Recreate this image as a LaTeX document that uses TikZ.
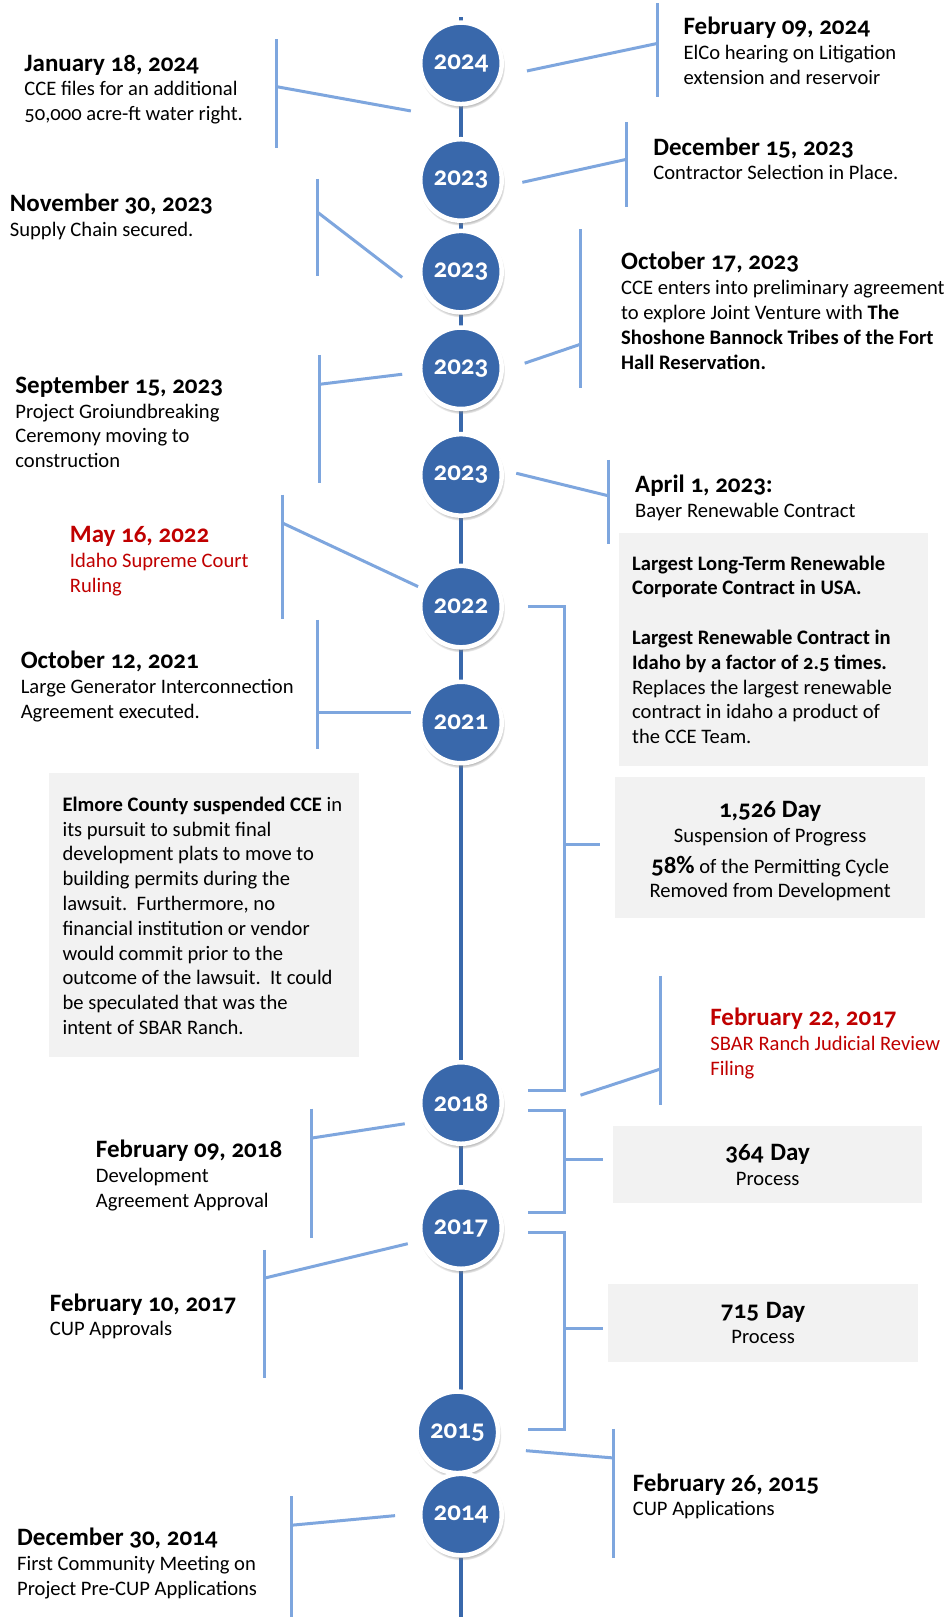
\documentclass[tikz,border=0pt]{standalone}
\usepackage{fontspec}
\setmainfont{Carlito}[Numbers=OldStyle]
\usetikzlibrary{shadows}
\definecolor{cblue}{RGB}{57,104,171}
\definecolor{lblue}{RGB}{126,166,222}
\definecolor{cred}{RGB}{192,0,0}
\definecolor{boxgray}{RGB}{242,242,242}
\newcommand\evtitle[1]{{\fontsize{25}{24.8}\selectfont\bfseries #1}}
\begin{document}
\begin{tikzpicture}[x=1.0315pt,y=-1.0315pt,
  yr/.style={circle, fill=cblue, draw=white, line width=4.5pt, minimum size=81.5pt, inner sep=0pt,
    text=white, font=\fontsize{27}{27}\selectfont\bfseries,
    circular drop shadow={shadow xshift=0.8pt, shadow yshift=-2.5pt, shadow scale=1.06}},
  conn/.style={draw=lblue, line width=3pt},
  spine/.style={draw=cblue, line width=4pt},
  ev/.style={anchor=north west, inner sep=0pt, align=left, font=\fontsize{20.6}{24.8}\selectfont},
  gbox/.style={fill=boxgray, inner ysep=0pt, font=\fontsize{20.6}{24.8}\selectfont},
  btext/.style={inner sep=0pt, font=\fontsize{20.6}{24.8}\selectfont}
]
\useasboundingbox (0,0) rectangle (921,1568);
\fill[white] (0,0) rectangle (921,1568);

% spine
\coordinate (sp0) at (447,16.5);
\coordinate (sp1) at (447,1568);
\draw[spine] (sp0) -- (sp1);

% year circles
\node[yr] (c24) at (447,61.4) {2024};
\node[yr] (c23a) at (447,174.5) {2023};
\node[yr] (c23b) at (447,263.4) {2023};
\node[yr] (c23c) at (447,357.1) {2023};
\node[yr] (c23d) at (447,460.5) {2023};
\node[yr] (c22) at (447,588.2) {2022};
\node[yr] (c21) at (447,700.6) {2021};
\node[yr] (c18) at (447,1069.6) {2018};
\node[yr] (c17) at (447,1190.8) {2017};
\node[yr] (c15) at (443.5,1388.9) {2015};
\node[yr] (c14) at (447,1468.7) {2014};

% ---------- left connectors ----------
\coordinate (l1t) at (268,38);     \coordinate (l1b) at (268,143.8);
\coordinate (l1k) at (268,84);     \coordinate (l1e) at (398.4,107.6);
\coordinate (l2t) at (307.9,173.5); \coordinate (l2b) at (307.9,267.6);
\coordinate (l2k) at (307.9,205.8); \coordinate (l2e) at (390,269);
\coordinate (l3t) at (310.2,344);  \coordinate (l3b) at (310.2,468.6);
\coordinate (l3k) at (310.2,372.6); \coordinate (l3e) at (390,362.9);
\coordinate (l4t) at (274.4,479.6); \coordinate (l4b) at (274.4,600.4);
\coordinate (l4k) at (274.4,507.4); \coordinate (l4e) at (405.4,568.8);
\coordinate (l5t) at (307.9,601);  \coordinate (l5b) at (307.9,726.4);
\coordinate (l5k) at (307.9,690.6); \coordinate (l5e) at (398.4,690.6);
\coordinate (l7t) at (302,1075);   \coordinate (l7b) at (302,1200);
\coordinate (l7k) at (302,1103.6); \coordinate (l7e) at (392.5,1089.7);
\coordinate (l8t) at (256.8,1212); \coordinate (l8b) at (256.8,1336.2);
\coordinate (l8k) at (256.8,1239.3); \coordinate (l8e) at (395.4,1206);
\coordinate (l9t) at (282.6,1451); \coordinate (l9b) at (282.6,1568);
\coordinate (l9k) at (282.6,1479); \coordinate (l9e) at (383.1,1469.7);
\foreach \i in {1,2,3,4,5,7,8,9}{
  \draw[conn] (l\i t) -- (l\i b);
  \draw[conn] (l\i k) -- (l\i e);
}

% ---------- right connectors ----------
\coordinate (r1t) at (638,3.2);    \coordinate (r1b) at (638,94.4);
\coordinate (r1k) at (638,42);     \coordinate (r1e) at (511,68.8);
\coordinate (r2t) at (607.5,118.6); \coordinate (r2b) at (607.5,200.4);
\coordinate (r2k) at (607.5,154.5); \coordinate (r2e) at (506.5,176.8);
\coordinate (r3t) at (562.9,222.3); \coordinate (r3b) at (562.9,375.8);
\coordinate (r3k) at (562.9,333.8); \coordinate (r3e) at (508.8,352.2);
\coordinate (r4t) at (590.5,446);  \coordinate (r4b) at (590.5,527.4);
\coordinate (r4k) at (590.5,480.9); \coordinate (r4e) at (500.6,458.9);
\coordinate (r8t) at (640.4,946.2); \coordinate (r8b) at (640.4,1071.3);
\coordinate (r8k) at (640.4,1036.6); \coordinate (r8e) at (562.9,1062);
\coordinate (r9t) at (595.2,1385.5); \coordinate (r9b) at (595.2,1510.7);
\coordinate (r9k) at (595.2,1413.8); \coordinate (r9e) at (510,1406.7);
\foreach \i in {1,2,3,4,8,9}{
  \draw[conn] (r\i t) -- (r\i b);
  \draw[conn] (r\i k) -- (r\i e);
}

% ---------- brackets ----------
\coordinate (b1s) at (512.3,588);   \coordinate (b1e) at (512.3,1057);
\coordinate (b1m) at (547.6,819);   \coordinate (b1x) at (581.7,819);
\draw[conn] (b1s) -- (547.6,588) -- (547.6,1057) -- (b1e);
\draw[conn] (b1m) -- (b1x);
\coordinate (b2s) at (512.3,1076.8); \coordinate (b2e) at (512.3,1175.3);
\coordinate (b2m) at (547.6,1124.6); \coordinate (b2x) at (584.6,1124.6);
\draw[conn] (b2s) -- (547.6,1076.8) -- (547.6,1175.3) -- (b2e);
\draw[conn] (b2m) -- (b2x);
\coordinate (b3s) at (512.3,1195);  \coordinate (b3e) at (512.3,1386);
\coordinate (b3m) at (547.6,1288.7); \coordinate (b3x) at (584.6,1288.7);
\draw[conn] (b3s) -- (547.6,1195) -- (547.6,1386) -- (b3e);
\draw[conn] (b3m) -- (b3x);

% ---------- left texts ----------
\node[ev] (t1) at (23.5,53) {\evtitle{January 18, 2024}\\CCE files for an additional\\50,000 acre-ft water right.};
\node[ev] (t2) at (9.4,187.8) {\evtitle{November 30, 2023}\\Supply Chain secured.};
\node[ev] (t3) at (14.7,364.2) {\evtitle{September 15, 2023}\\Project Groiundbreaking\\Ceremony moving to\\construction};
\node[ev, text=cred] (t4) at (67.6,510.3) {\evtitle{May 16, 2022}\\Idaho Supreme Court\\Ruling};
\node[ev] (t5) at (20,631.5) {\evtitle{October 12, 2021}\\Large Generator Interconnection\\Agreement executed.};
\node[ev] (t7) at (92.8,1105.5) {\evtitle{February 09, 2018}\\Development\\Agreement Approval};
\node[ev] (t8) at (48.2,1254.2) {\evtitle{February 10, 2017}\\CUP Approvals};
\node[ev] (t9) at (16.5,1481.4) {\evtitle{December 30, 2014}\\First Community Meeting on\\Project Pre-CUP Applications};

% ---------- right texts ----------
\node[ev] (s1) at (662.7,16.5) {\evtitle{February 09, 2024}\\ElCo hearing on Litigation\\extension and reservoir};
\node[ev] (s2) at (633.4,133.2) {\evtitle{December 15, 2023}\\Contractor Selection in Place.};
\node[ev] (s3) at (602.2,244.6) {\evtitle{October 17, 2023}\\CCE enters into preliminary agreement\\to explore Joint Venture with \textbf{The}\\\textbf{Shoshone Bannock Tribes of the Fort}\\\textbf{Hall Reservation.}};
\node[ev] (s4) at (615.7,460.2) {\evtitle{April 1, 2023:}\\Bayer Renewable Contract};
\node[ev, text=cred] (s8) at (688.6,977.2) {\evtitle{February 22, 2017}\\SBAR Ranch Judicial Review\\Filing};
\node[ev] (s9) at (613.4,1428.7) {\evtitle{February 26, 2015}\\CUP Applications};

% ---------- grey boxes ----------
\node[gbox, minimum width=310.3pt, minimum height=283.7pt] (lbox) at (198,887.5) {};
\node[btext, anchor=west, align=left] (lboxt) at (60.5,888)
 {\textbf{Elmore County suspended CCE} in\\its pursuit to submit final\\development plats to move to\\building permits during the\\lawsuit.\ \ Furthermore, no\\financial institution or vendor\\would commit prior to the\\outcome of the lawsuit.\ \ It could\\be speculated that was the\\intent of SBAR Ranch.};
\node[gbox, minimum width=309pt, minimum height=233pt] (rbox) at (750.3,629.4) {};
\node[btext, anchor=west, align=left] (rboxt) at (612.8,630)
 {\textbf{Largest Long-Term Renewable}\\\textbf{Corporate Contract in USA.}\\[24.8pt]\textbf{Largest Renewable Contract in}\\\textbf{Idaho by a factor of 2.5 times.}\\Replaces the largest renewable\\contract in idaho a product of\\the CCE Team.};
\node[gbox, minimum width=310.3pt, minimum height=141.3pt] (d1526) at (746.8,821.5) {};
\node[btext, align=center] (d1526t) at (746.8,825.5)
 {\evtitle{1,526 Day}\\Suspension of Progress\\[6pt]\evtitle{58\%} of the Permitting Cycle\\Removed from Development};
\node[gbox, align=center, text width=283.7pt, inner xsep=12.65pt, minimum height=77.8pt] (d364) at (744.4,1129.3)
 {\evtitle{364 Day}\\Process};
\node[gbox, align=center, text width=283.7pt, inner xsep=13pt, minimum height=78.6pt] (d715) at (740,1282.9)
 {\evtitle{715 Day}\\Process};
\end{tikzpicture}
\end{document}
